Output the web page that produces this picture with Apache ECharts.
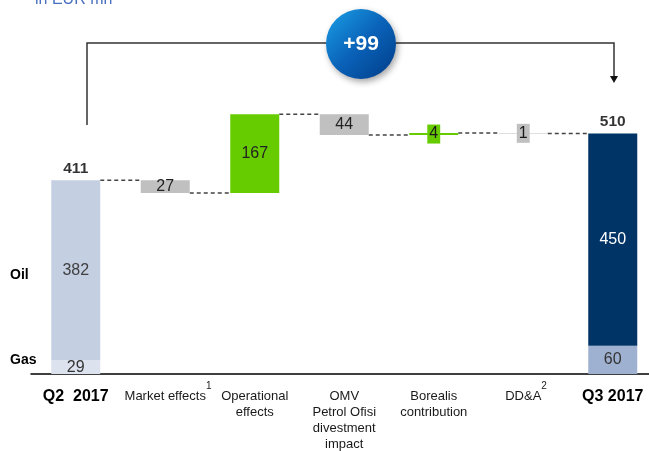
<!DOCTYPE html>
<html>
<head>
<meta charset="utf-8">
<script src="https://cdn.jsdelivr.net/npm/echarts@6/dist/echarts.min.js"></script>
<style>html,body{margin:0;padding:0;background:#fff;}#c{width:649px;height:451px;}</style>
</head>
<body>
<div id="c"></div>
<script>
// ---- data ----
var categories = ['Q2  2017', 'Market effects', 'Operational\neffects', 'OMV\nPetrol Ofisi\ndivestment\nimpact', 'Borealis\ncontribution', 'DD&A', 'Q3 2017'];
var footnotes = ['', '1', '', '', '', '2', ''];
var startOil = 382, startGas = 29, startTotal = 411;
var endOil = 450, endGas = 60, endTotal = 510;
var changes = [-27, 167, -44, 4, -1];   // Market, Operational, OMV, Borealis, DD&A
var bridgeLabel = '+99';

// ---- derived ----
var N = categories.length;
var base = [], delta = [], deltaColor = [], levels = [];
var run = startTotal;
levels.push(run);
base.push(0); delta.push('-'); deltaColor.push(null);
changes.forEach(function (c) {
  var next = run + c;
  base.push(Math.min(run, next));
  delta.push(Math.abs(c));
  deltaColor.push(c >= 0 ? '#66cc00' : '#c0c0c0');
  run = next;
  levels.push(run);
});
base.push(0); delta.push('-'); deltaColor.push(null);
var gas = [startGas].concat(changes.map(function(){return '-';})).concat([endGas]);
var oil = [startOil].concat(changes.map(function(){return '-';})).concat([endOil]);
var totals = [[0, startTotal], [N - 1, endTotal]];

var BAR_W = 49;
var FONT = '"Liberation Sans", Arial, sans-serif';
var LABEL_FONT = '13px ' + FONT;

var chart = echarts.init(document.getElementById('c'));

var deltaData = delta.map(function (v, i) {
  if (v === '-') return '-';
  var small = v < 10;
  var item = { value: v, itemStyle: { color: deltaColor[i] } };
  if (small) {
    item.label = {
      show: true, position: 'inside',
      backgroundColor: deltaColor[i], padding: [1, 2, 0, 2],
      color: '#1a1a1a', fontSize: 16, fontFamily: FONT, lineHeight: 18
    };
  }
  return item;
});

var graphics = [
  {
    type: 'text', x: 35, y: 8,
    style: { text: 'in EUR mn', fill: '#4a6fbf', font: '16px ' + FONT, textVerticalAlign: 'bottom' }
  },
  {
    type: 'polyline',
    shape: { points: [[87, 125], [87, 43], [614, 43], [614, 77]] },
    style: { stroke: '#333', lineWidth: 1.5, fill: null }
  },
  {
    type: 'polygon',
    shape: { points: [[610, 76], [618, 76], [614, 83]] },
    style: { fill: '#111' }
  },
  {
    type: 'circle',
    shape: { cx: 361, cy: 44, r: 35 },
    style: {
      fill: new echarts.graphic.LinearGradient(0, 0, 1, 1, [
        { offset: 0, color: '#1aa0e6' },
        { offset: 0.5, color: '#0a62b8' },
        { offset: 1, color: '#003c88' }
      ]),
      shadowBlur: 6, shadowColor: 'rgba(0,0,0,0.35)', shadowOffsetX: 2, shadowOffsetY: 3
    },
    z: 10
  },
  {
    type: 'text', x: 361, y: 44, z: 11,
    style: { text: bridgeLabel, fill: '#fff', font: 'bold 21px ' + FONT, textAlign: 'center', textVerticalAlign: 'middle' }
  },
  {
    type: 'text', left: 10, top: 268,
    style: { text: 'Oil', fill: '#000', font: 'bold 14px ' + FONT }
  },
  {
    type: 'text', left: 10, top: 353,
    style: { text: 'Gas', fill: '#000', font: 'bold 14px ' + FONT }
  }
];

var option = {
  animation: false,
  backgroundColor: '#fff',
  grid: { left: 31, top: 44, bottom: 77, width: 626.5, containLabel: false, outerBoundsMode: 'none' },
  xAxis: {
    type: 'category',
    data: categories,
    axisTick: { show: false },
    axisLine: { lineStyle: { color: '#000', width: 1.5 } },
    axisLabel: {
      interval: 0, margin: 14, hideOverlap: false,
      formatter: function (v, i) {
        if (i === 0 || i === N - 1) return '{b|' + v + '}';
        return '{n|' + v.split('\n').join('}\n{n|') + '}';
      },
      rich: {
        b: { fontSize: 16, fontWeight: 'bold', color: '#000', fontFamily: FONT, lineHeight: 18 },
        n: { fontSize: 13, color: '#1a1a1a', fontFamily: FONT, lineHeight: 16 }
      }
    }
  },
  yAxis: { type: 'value', min: 0, max: 700, show: false, splitLine: { show: false } },
  series: [
    {
      type: 'bar', stack: 't', barWidth: BAR_W, data: base,
      itemStyle: { color: 'transparent' }, silent: true
    },
    {
      type: 'bar', stack: 't', data: gas,
      itemStyle: { color: function (p) { return p.dataIndex === 0 ? '#dde3ee' : '#9fb1d0'; } },
      label: { show: true, position: 'inside', color: '#333', fontSize: 16, fontFamily: FONT }
    },
    {
      type: 'bar', stack: 't', data: oil,
      itemStyle: { color: function (p) { return p.dataIndex === 0 ? '#c4cfe2' : '#003366'; } },
      label: {
        show: true, position: 'inside', fontSize: 16, fontFamily: FONT,
        color: '#333',
        formatter: function (p) { return p.dataIndex === 0 ? '{d|' + p.value + '}' : '{w|' + p.value + '}'; },
        rich: { d: { color: '#404040', fontSize: 16, fontFamily: FONT }, w: { color: '#fff', fontSize: 16, fontFamily: FONT } }
      }
    },
    {
      type: 'bar', stack: 't', data: deltaData,
      label: { show: true, position: 'inside', color: '#222', fontSize: 16, fontFamily: FONT }
    },
    {
      type: 'scatter', data: totals, symbolSize: 0,
      label: {
        show: true, position: 'top', distance: 4,
        formatter: function (p) { return p.value[1]; },
        color: '#000', fontSize: 15.5, fontWeight: 'bold', fontFamily: FONT
      }
    },
    {
      type: 'custom',
      data: levels.slice(0, N - 1).map(function (l, i) { return [i, l]; }),
      renderItem: function (params, api) {
        var i = api.value(0), l = api.value(1);
        var p1 = api.coord([i, l]);
        var p2 = api.coord([i + 1, l]);
        return {
          type: 'line',
          shape: { x1: p1[0] + BAR_W / 2, y1: p1[1], x2: p2[0] - BAR_W / 2, y2: p2[1] },
          style: { stroke: '#444', lineWidth: 1.5, lineDash: [4, 3] }
        };
      },
      z: 1
    }
  ],
  graphic: graphics
};
chart.setOption(option);

// footnote superscripts placed after the first line of each category label
var ctx = document.createElement('canvas').getContext('2d');
ctx.font = LABEL_FONT;
var axisY = chart.convertToPixel({ yAxisIndex: 0 }, 0);
footnotes.forEach(function (f, i) {
  if (!f) return;
  var cx = chart.convertToPixel({ xAxisIndex: 0 }, i);
  var w = ctx.measureText(categories[i].split('\n')[0]).width;
  graphics.push({
    type: 'text', x: cx + w / 2, y: axisY + 12.5, z: 5,
    style: { text: f, fill: '#1a1a1a', font: '10px ' + FONT, textVerticalAlign: 'middle' }
  });
});
chart.setOption({ graphic: graphics });
</script>
</body>
</html>
